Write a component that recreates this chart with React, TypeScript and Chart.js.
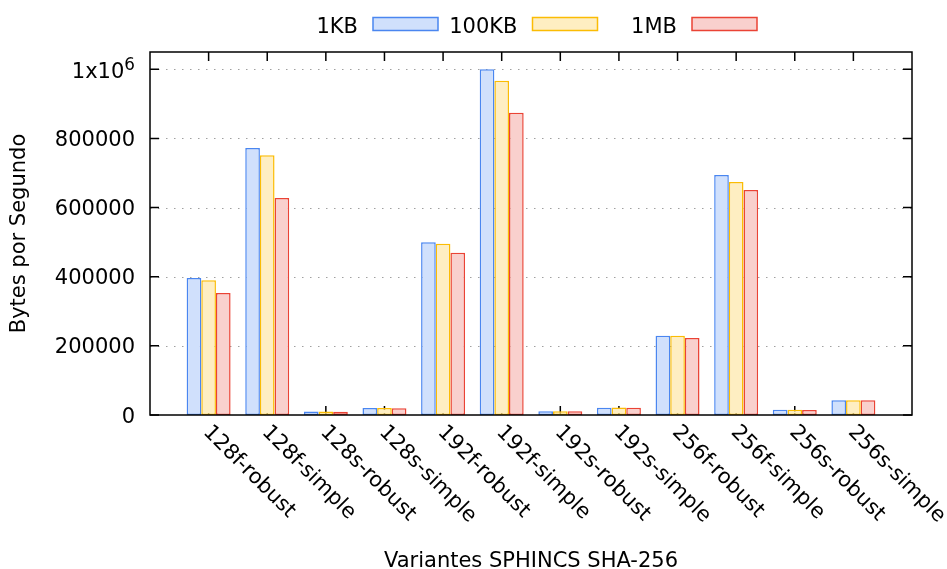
import { useEffect, useRef } from 'react';
import { Chart, registerables } from 'chart.js';

Chart.register(...registerables);

const categories = [
  '128f-robust', '128f-simple', '128s-robust', '128s-simple',
  '192f-robust', '192f-simple', '192s-robust', '192s-simple',
  '256f-robust', '256f-simple', '256s-robust', '256s-simple',
];
const series1KB = [396000, 772000, 10000, 20000, 500000, 1000000, 11000, 21000, 229000, 694000, 15000, 43000];
const series100KB = [390000, 751000, 10000, 20500, 495000, 967000, 11000, 21500, 229000, 674000, 15000, 43000];
const series1MB = [353000, 628000, 9500, 19500, 469000, 874000, 10500, 21000, 223000, 651000, 14500, 43000];
const seriesNames = ['1KB', '100KB', '1MB'];
const yTicks = [0, 200000, 400000, 600000, 800000, 1000000];
const yMax = 1050000;
const xTitle = 'Variantes SPHINCS SHA-256';
const yTitle = 'Bytes por Segundo';

const borderColors = ['#4a86f0', '#fbbc04', '#ea4335'];
const fillColors = ['#d0e0fc', '#feeec2', '#f9d0cd'];

const FONT = '"DejaVu Sans", Verdana, sans-serif';
const FS = 21;

const pad = (arr: number[]) => [null, ...arr, null];

const decor = {
  id: 'decor',
  beforeDatasetsDraw(chart: any) {
    const { ctx, chartArea: a, scales } = chart;
    const y = scales.y;
    const x = scales.x;
    ctx.save();
    ctx.strokeStyle = '#a0a0a0';
    ctx.lineWidth = 1;
    ctx.setLineDash([1.5, 6.5]);
    yTicks.forEach((v) => {
      if (v === 0) return;
      const py = Math.round(y.getPixelForValue(v)) + 0.5;
      ctx.beginPath();
      ctx.moveTo(a.left, py);
      ctx.lineTo(a.right, py);
      ctx.stroke();
    });
    ctx.setLineDash([]);
    ctx.strokeStyle = '#000';
    ctx.lineWidth = 1.5;
    const T = 9;
    yTicks.forEach((v) => {
      const py = y.getPixelForValue(v);
      ctx.beginPath();
      ctx.moveTo(a.left, py);
      ctx.lineTo(a.left + T, py);
      ctx.moveTo(a.right, py);
      ctx.lineTo(a.right - T, py);
      ctx.stroke();
    });
    categories.forEach((_, i) => {
      const px = x.getPixelForValue(i + 1);
      ctx.beginPath();
      ctx.moveTo(px, a.bottom);
      ctx.lineTo(px, a.bottom - T);
      ctx.moveTo(px, a.top);
      ctx.lineTo(px, a.top + T);
      ctx.stroke();
    });
    ctx.restore();
  },
  afterDatasetsDraw(chart: any) {
    const { ctx, chartArea: a } = chart;
    ctx.save();
    ctx.strokeStyle = '#000';
    ctx.lineWidth = 1.5;
    ctx.strokeRect(a.left, a.top, a.right - a.left, a.bottom - a.top);
    ctx.restore();
  },
  afterDraw(chart: any) {
    const { ctx, chartArea: a, scales } = chart;
    const y = scales.y;
    const x = scales.x;
    ctx.save();
    ctx.fillStyle = '#000';
    // y tick labels
    ctx.textAlign = 'right';
    ctx.textBaseline = 'alphabetic';
    const lx = a.left - 15;
    yTicks.forEach((v) => {
      const py = y.getPixelForValue(v);
      if (v === 1000000) {
        ctx.font = `${FS * 0.8}px ${FONT}`;
        const w = ctx.measureText('6').width;
        ctx.fillText('6', lx, py + 0.7);
        ctx.font = `${FS}px ${FONT}`;
        ctx.fillText('1x10', lx - w, py + 8.5);
      } else {
        ctx.font = `${FS}px ${FONT}`;
        ctx.fillText(String(v), lx, py + 7.6);
      }
    });
    // x tick labels rotated
    ctx.font = `${FS}px ${FONT}`;
    ctx.textAlign = 'left';
    categories.forEach((c, i) => {
      const px = x.getPixelForValue(i + 1);
      ctx.save();
      ctx.translate(px - 6, a.bottom + 18);
      ctx.rotate(Math.PI / 4);
      ctx.fillText(c, 0, 0);
      ctx.restore();
    });
    // x title
    ctx.textAlign = 'center';
    ctx.fillText(xTitle, (a.left + a.right) / 2, 567);
    // y title
    ctx.save();
    ctx.translate(24.5, (a.top + a.bottom) / 2);
    ctx.rotate(-Math.PI / 2);
    ctx.fillText(yTitle, 0, 0);
    ctx.restore();
    // legend: text then box
    const cx = (a.left + a.right) / 2;
    chart.data.datasets.forEach((ds: any, i: number) => {
      const xr = cx - 173 + 159.5 * i;
      ctx.textAlign = 'right';
      ctx.textBaseline = 'alphabetic';
      ctx.fillStyle = '#000';
      ctx.fillText(ds.label, xr, 32.5);
      ctx.fillStyle = ds.backgroundColor;
      ctx.fillRect(xr + 15, 17.5, 65, 13);
      ctx.strokeStyle = ds.borderColor;
      ctx.lineWidth = 1.5;
      ctx.strokeRect(xr + 15, 17.5, 65, 13);
    });
    ctx.restore();
  },
};

export default function App() {
  const ref = useRef<HTMLCanvasElement | null>(null);
  useEffect(() => {
    if (!ref.current) return;
    const all = [series1KB, series100KB, series1MB];
    const chart = new Chart(ref.current, {
      type: 'bar',
      data: {
        labels: ['', ...categories, ''],
        datasets: all.map((s, i) => ({
          label: seriesNames[i],
          data: pad(s) as any,
          backgroundColor: fillColors[i],
          borderColor: borderColors[i],
          borderWidth: 1.5,
          borderSkipped: false,
          categoryPercentage: 0.75,
          barPercentage: 1,
        })),
      },
      options: {
        responsive: false,
        animation: false,
        events: [],
        layout: { padding: { top: 52, right: 35, left: 0, bottom: 0 } },
        plugins: {
          legend: { display: false },
          tooltip: { enabled: false },
          title: { display: false },
        },
        scales: {
          x: {
            offset: false,
            grid: { display: false },
            border: { display: false },
            ticks: { display: false },
            afterFit: (s: any) => { s.height = 154; },
          },
          y: {
            min: 0,
            max: yMax,
            grid: { display: false },
            border: { display: false },
            ticks: { display: false },
            afterFit: (s: any) => { s.width = 150; },
          },
        },
      },
      plugins: [decor],
    });
    return () => chart.destroy();
  }, []);
  return (
    <div style={{ position: 'fixed', left: 0, top: 0, width: 947, height: 569, background: '#fff' }}>
      <canvas ref={ref} width={947} height={569} style={{ display: 'block' }} />
    </div>
  );
}
